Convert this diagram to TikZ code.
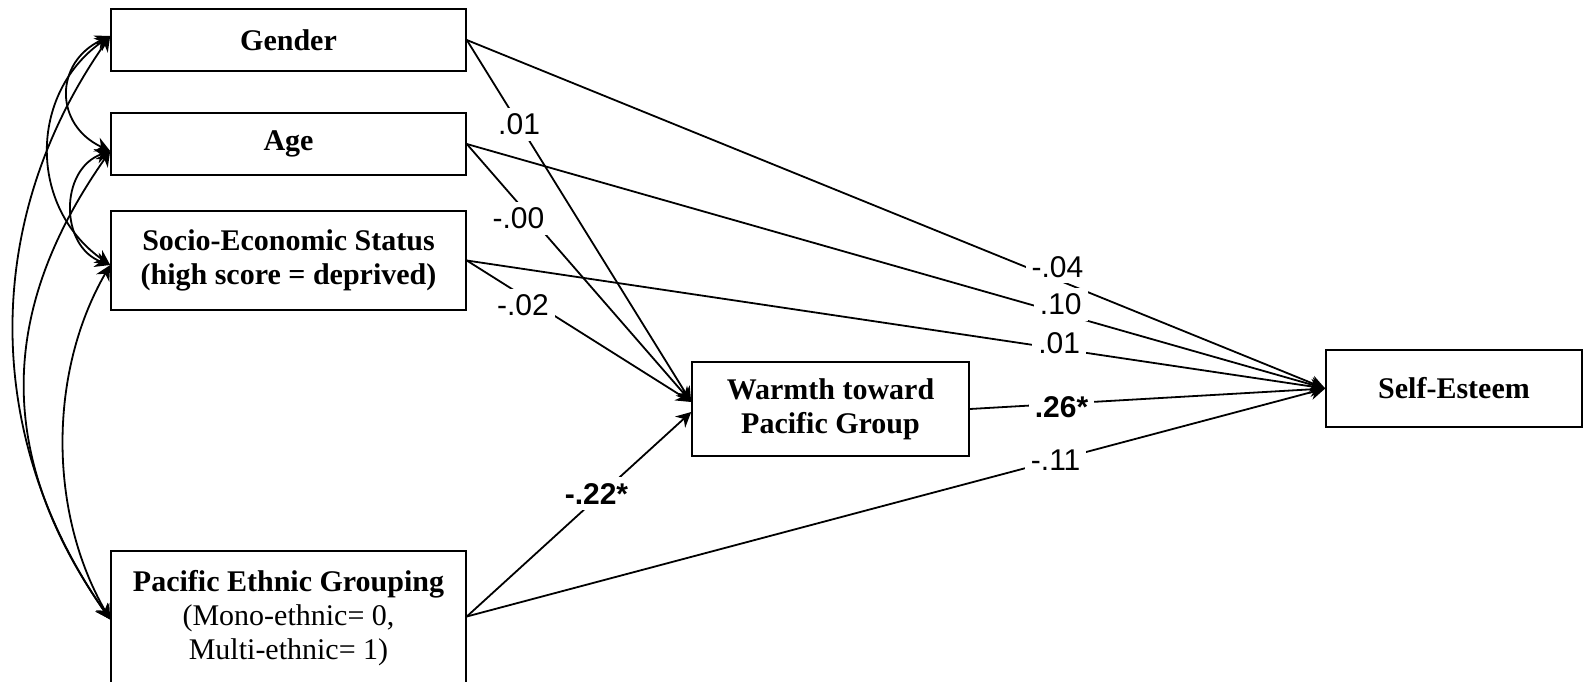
\documentclass[tikz,border=0pt]{standalone}
\usepackage{fontspec}
\setmainfont{Liberation Serif}
\setsansfont{Liberation Sans}
\usepackage{tikz}
\usetikzlibrary{arrows.meta}
\tikzstyle{varbox} = [rectangle, draw=black, thick, align=center, inner sep=0pt, font=\bfseries\fontsize{15}{17}\selectfont]
\tikzstyle{arrow} = [line width=0.9pt,->,>={Stealth[length=7.5pt,width=7.5pt]}]
\tikzstyle{covar} = [line width=0.9pt,<->,>={Stealth[length=7.5pt,width=7.5pt]}]
\tikzstyle{coef} = [fill=white, inner sep=3pt, font=\sffamily\fontsize{15}{17}\selectfont]
\tikzstyle{coefsig} = [coef, font=\sffamily\bfseries\fontsize{15}{17}\selectfont]

\begin{document}
\begin{tikzpicture}[x=0.5pt,y=0.5pt]
\useasboundingbox (0,0) rectangle (1584,-681);
% exogenous variables
\node (gender) [varbox, minimum width=177.5pt, minimum height=31pt] at (288.5,-40) {Gender};
\node (age) [varbox, minimum width=177.5pt, minimum height=31pt] at (288.5,-144) {Age};
\node (ses) [varbox, minimum width=177.5pt, minimum height=49.5pt] at (288.5,-260.5) {Socio-Economic Status\\(high score = deprived)};
\node (peg) [varbox, minimum width=177.5pt, minimum height=67pt] at (288.5,-618) {Pacific Ethnic Grouping\\{\mdseries(Mono-ethnic= 0,}\\{\mdseries Multi-ethnic= 1)}};
% mediator and outcome
\node (warmth) [varbox, minimum width=138.5pt, minimum height=47pt] at (830.5,-409) {Warmth toward\\Pacific Group};
\node (selfest) [varbox, minimum width=128pt, minimum height=38.5pt] at (1454,-388.5) {Self-Esteem};

% covariances
\draw [covar] ([yshift=2pt]gender.west) to[out=205,in=155,distance=31pt] ([yshift=-3.5pt]age.west);
\draw [covar] ([yshift=2pt]gender.west) to[out=215,in=145,distance=50pt] ([yshift=-2.25pt]ses.west);
\draw [covar] ([yshift=2pt]gender.west) to[out=235,in=125,distance=112pt] ([yshift=-0.75pt]peg.west);
\draw [covar] ([yshift=-3.5pt]age.west) to[out=200,in=160,distance=27pt] ([yshift=-2.25pt]ses.west);
\draw [covar] ([yshift=-3.5pt]age.west) to[out=235,in=125,distance=99pt] ([yshift=-0.75pt]peg.west);
\draw [covar] ([yshift=-2.25pt]ses.west) to[out=240,in=120,distance=62pt] ([yshift=-0.75pt]peg.west);

% paths to warmth
\draw [arrow] (gender.east) -- ([yshift=3.5pt]warmth.west) node[coef, pos=0.233] {.01};
\draw [arrow] (age.east) -- ([yshift=3.5pt]warmth.west) node[coef, pos=0.288, xshift=-6.5pt] {-.00};
\draw [arrow] (ses.east) -- ([yshift=3.5pt]warmth.west) node[coef, pos=0.317, xshift=-7.5pt] {-.02};
\draw [arrow] ([yshift=0.75pt]peg.east) -- ([yshift=-1.5pt]warmth.west) node[coefsig, pos=0.6, xshift=-2.5pt] {-.22*};

% paths to self-esteem
\draw [arrow] (gender.east) -- (selfest.west) node[coef, pos=0.688, yshift=6.5pt] {-.04};
\draw [arrow] (age.east) -- (selfest.west) node[coef, pos=0.692, yshift=4.5pt] {.10};
\draw [arrow] (ses.east) -- (selfest.west) node[coef, pos=0.69, yshift=2.75pt] {.01};
\draw [arrow] (warmth.east) -- (selfest.west) node[coefsig, pos=0.258, yshift=-1.75pt] {.26*};
\draw [arrow] ([yshift=0.75pt]peg.east) -- (selfest.west) node[coef, pos=0.686] {-.11};
\end{tikzpicture}
\end{document}
